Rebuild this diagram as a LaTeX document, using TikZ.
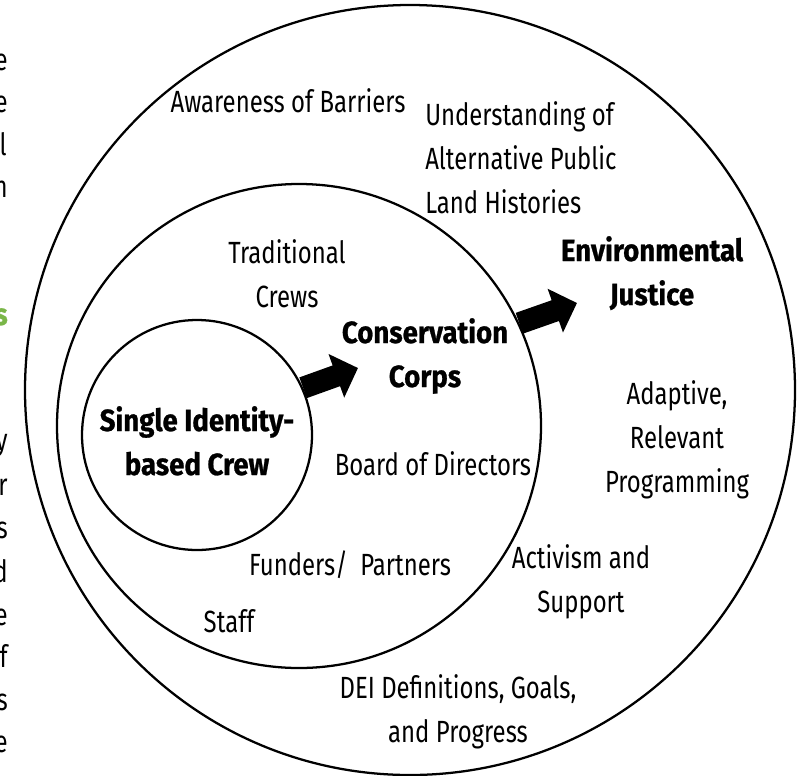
\documentclass[tikz,border=0pt]{standalone}
\usepackage{fontspec}
\setmainfont{Fira Sans}[FakeStretch=0.78]
\newfontfamily\heavyfont{Fira Sans}[FakeStretch=0.9, BoldFeatures={FakeBold=0.8}]
\usetikzlibrary{arrows.meta}
\definecolor{leafgreen}{RGB}{122,182,72}
\tikzset{
  ring/.style={circle, draw=black, line width=1.7pt, inner sep=0pt},
  lbl/.style={font=\fontsize{23}{33}\selectfont, align=center, anchor=base, inner sep=0pt},
  lbll/.style={font=\fontsize{23}{33}\selectfont, align=left, anchor=base west, inner sep=0pt},
  bl/.style={lbl, font=\fontsize{23}{33}\selectfont\heavyfont\bfseries},
  frag/.style={font=\fontsize{23}{33}\selectfont, anchor=base east, inner sep=0pt},
  bigarrow/.style={line width=16.5pt, -{Triangle[length=17.25pt,width=33.75pt]}}
}
\begin{document}
\begin{tikzpicture}[x=0.75pt,y=-0.75pt]
\useasboundingbox (0,0) rectangle (803,775);
% circles
\node[ring, minimum size=577.5pt] (outer) at (410,390) {};
\node[ring, minimum size=363pt] (middle) at (299,426) {};
\node[ring, minimum size=172.5pt] (inner) at (197,435) {};
% arrows
\coordinate (tip1) at (358,368);
\coordinate (tip2) at (577,303);
\draw[bigarrow] (inner.24) -- (tip1);
\draw[bigarrow] (middle.25) -- (tip2);
% labels (multi-line nodes are placed at the baseline of their last line)
\node[lbl] (aware) at (288,112) {Awareness of Barriers};
\node[lbll] (underst) at (425,213) {Understanding of\\Alternative Public\\Land Histories};
\node[lbl] (trad) at (287,307) {Traditional\\Crews};
\node[bl] (corps) at (425,387) {Conservation\\Corps};
\node[bl] (single) at (197,475) {Single Identity-\\based Crew};
\node[lbl] (board) at (433,475) {Board of Directors};
\node[bl] (ej) at (652,305) {Environmental\\Justice};
\node[lbl] (adapt) at (677,492) {Adaptive,\\Relevant\\Programming};
\node[lbl] (fund) at (350,575) {Funders/\ \ Partners};
\node[lbl] (staff) at (229,632) {Staff};
\node[lbl] (activ) at (581,612) {Activism and\\Support};
\node[lbl] (dei) at (458,742) {DEI Definitions, Goals,\\and Progress};
% cut-off letters at the left edge
\node[frag] (f1) at (8,70) {e};
\node[frag] (f2) at (8,112) {e};
\node[frag] (f3) at (7,155) {l};
\node[frag] (f4) at (8,197) {n};
\node[frag, text=leafgreen, font=\fontsize{23}{33}\selectfont\heavyfont\bfseries] (f5) at (8,325) {s};
\node[frag] (f6) at (8,450) {y};
\node[frag] (f7) at (8,495) {r};
\node[frag] (f8) at (8,538) {s};
\node[frag] (f9) at (8,582) {d};
\node[frag] (f10) at (8,625) {e};
\node[frag] (f11) at (8,667) {f};
\node[frag] (f12) at (8,710) {s};
\node[frag] (f13) at (8,752) {e};
\end{tikzpicture}
\end{document}
